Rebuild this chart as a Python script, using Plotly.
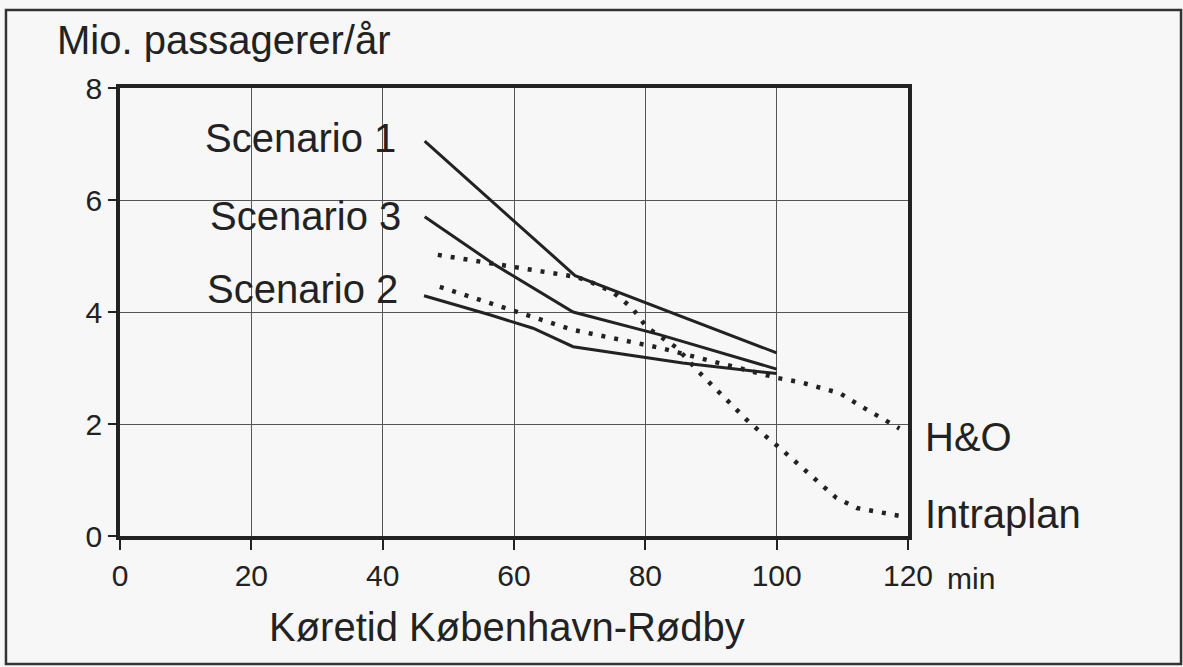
import plotly.graph_objects as go

# ---- data ----
s1_x = [46.4, 69.3, 100]
s1_y = [7.05, 4.65, 3.27]

s3_x = [46.4, 57, 69, 82, 100]
s3_y = [5.7, 4.85, 4.0, 3.6, 2.98]

s2_x = [46.3, 56.3, 62.9, 69, 85.7, 100]
s2_y = [4.29, 3.95, 3.71, 3.38, 3.09, 2.9]

ho_x = [48.7, 69, 82.2, 100.2, 103.5, 109.6, 113.1, 118.7]
ho_y = [4.45, 3.68, 3.36, 2.82, 2.75, 2.55, 2.30, 1.92]

ip_x = [48.4, 69.3, 71, 75, 78, 80.2, 84.8, 88.3, 95.9, 100.5, 109.1, 112.2, 118.7]
ip_y = [5.02, 4.63, 4.57, 4.36, 4.07, 3.73, 3.36, 2.91, 2.02, 1.57, 0.68, 0.5, 0.36]

x_ticks = [0, 20, 40, 60, 80, 100, 120]
y_ticks = [0, 2, 4, 6, 8]

INK = "#222222"
BG = "#f7f7f7"
FONT = "Liberation Sans, Arial, sans-serif"

fig = go.Figure()
solid = dict(color=INK, width=3)
dotted = dict(color=INK, width=4.5, dash="4px,9px")
for xs, ys, ln in [(s1_x, s1_y, solid), (s3_x, s3_y, solid), (s2_x, s2_y, solid),
                   (ho_x, ho_y, dotted), (ip_x, ip_y, dotted)]:
    fig.add_trace(go.Scatter(x=xs, y=ys, mode="lines", line=ln, showlegend=False,
                             hoverinfo="skip", cliponaxis=False))

axis_common = dict(showline=True, linecolor=INK, linewidth=3.5, mirror=True,
                   showgrid=True, gridcolor="#555555", gridwidth=1.2,
                   zeroline=False, ticks="outside", tickcolor=INK, tickwidth=2,
                   tickfont=dict(family=FONT, size=30, color=INK))

fig.update_xaxes(range=[0, 120], tickvals=x_ticks, ticktext=[str(v) for v in x_ticks],
                 ticklen=10, **axis_common)
fig.update_yaxes(range=[0, 8], tickvals=y_ticks, ticktext=[str(v) for v in y_ticks],
                 ticklen=8, **axis_common)

def ann(text, x, y, xa, ref="x", size=40):
    fig.add_annotation(text=text, x=x, y=y,
                       xref="x" if ref == "x" else "paper",
                       yref="y" if ref == "x" else "paper",
                       xanchor=xa, yanchor="middle",
                       showarrow=False, font=dict(family=FONT, size=size, color=INK))

ann("Scenario 1", 42.3, 7.1, "right")
ann("Scenario 3", 43.1, 5.71, "right")
ann("Scenario 2", 42.6, 4.41, "right")
ann("H&amp;O", 1.019, 0.221, "left", ref="paper")
ann("Intraplan", 1.019, 0.049, "left", ref="paper")
ann("Mio. passagerer/år", -0.0825, 1.107, "left", ref="paper")
ann("Køretid København-Rødby", 0.491, -0.203, "center", ref="paper")
ann("min", 1.047, -0.094, "left", ref="paper", size=30)

# outer frame of the scanned figure
fig.add_shape(type="rect", xref="paper", yref="paper",
              x0=-0.1447, x1=1.3465, y0=-0.2857, y1=1.174,
              line=dict(color="#333333", width=2.5), layer="below")

fig.update_layout(width=1183, height=667, paper_bgcolor=BG, plot_bgcolor=BG,
                  margin=dict(l=120, r=275, t=88, b=131), showlegend=False)

fig.write_html("out.html", config={"displayModeBar": False},
               post_script="document.body.style.margin='0px';"
                           "document.body.style.background='%s';" % BG)
